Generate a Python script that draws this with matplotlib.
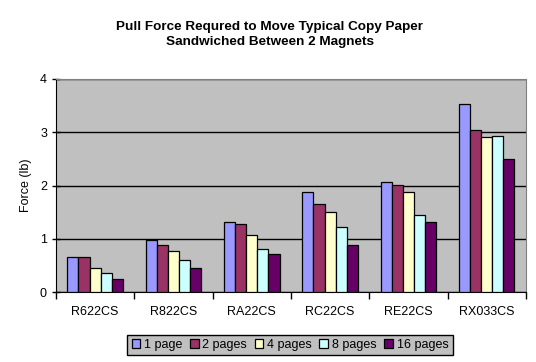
import numpy as np
import matplotlib
matplotlib.use('Agg')
import matplotlib.pyplot as plt

plt.rcParams['font.family'] = ['Liberation Sans', 'DejaVu Sans']

magnets = ['R622CS', 'R822CS', 'RA22CS', 'RC22CS', 'RE22CS', 'RX033CS']
series = ['1 page', '2 pages', '4 pages', '8 pages', '16 pages']
page1 = [0.65, 0.97, 1.31, 1.87, 2.06, 3.53]
page2 = [0.65, 0.88, 1.27, 1.65, 2.01, 3.04]
page4 = [0.46, 0.78, 1.07, 1.50, 1.87, 2.91]
page8 = [0.35, 0.60, 0.80, 1.22, 1.44, 2.93]
page16 = [0.24, 0.46, 0.71, 0.88, 1.31, 2.49]
colors = ['#9999FF', '#993366', '#FFFFCC', '#CCFFFF', '#660066']

fig = plt.figure(figsize=(5.36, 3.62), dpi=100)
ax = fig.add_axes([0.1045, 0.193, 0.8765, 0.589])
ax.set_facecolor('#C0C0C0')

x = np.arange(len(magnets))
w = 0.142
for i, vals in enumerate([page1, page2, page4, page8, page16]):
    ax.bar(x + (i - 2) * w, vals, w, color=colors[i], edgecolor='black',
           linewidth=0.9, label=series[i], zorder=3)

ax.set_xlim(-0.5, len(magnets) - 0.5)
ax.set_ylim(0, 4)
ax.set_yticks([0, 1, 2, 3, 4])
ax.yaxis.grid(True, color='black', linewidth=1, zorder=1)
ax.set_xticks(x)
ax.set_xticklabels(magnets, fontsize=9)
ax.set_xticks(np.arange(-0.5, len(magnets), 1), minor=True)
ax.tick_params(axis='x', which='major', length=0, pad=10)
ax.tick_params(axis='x', which='minor', length=5, width=1, direction='out')
ax.tick_params(axis='y', length=6, width=1, direction='inout', labelsize=9)
ax.set_ylabel('Force (lb)', fontsize=9, labelpad=6)

for s in ['top', 'right']:
    ax.spines[s].set_color('#808080')
for s in ['left', 'bottom']:
    ax.spines[s].set_color('black')

fig.text(0.503, 0.905, 'Pull Force Requred to Move Typical Copy Paper\nSandwiched Between 2 Magnets',
         ha='center', va='center', fontsize=9.7, fontweight='bold', linespacing=1.35)

leg = fig.legend(loc='center', bbox_to_anchor=(0.541, 0.047), ncol=5, fontsize=9,
                 frameon=True, fancybox=False, facecolor='#C0C0C0', edgecolor='black',
                 handlelength=0.7, handleheight=0.7, handletextpad=0.3, columnspacing=0.6,
                 borderpad=0.35)
leg.get_frame().set_linewidth(1)
leg.get_frame().set_alpha(1)

fig.savefig('out.png', dpi=100)
